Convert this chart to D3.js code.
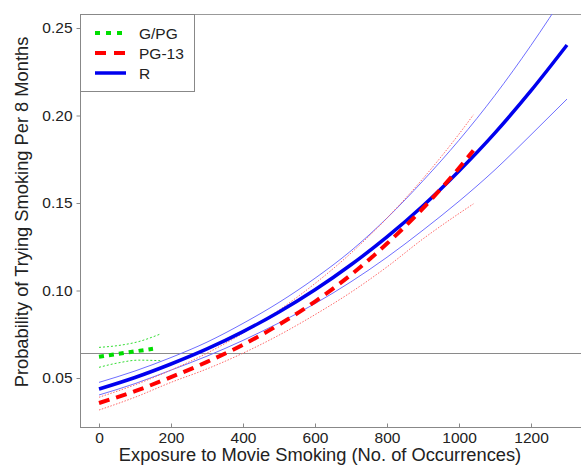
<!DOCTYPE html>
<html>
<head>
<meta charset="utf-8">
<script src="https://cdn.jsdelivr.net/npm/d3@7"></script>
<style>
  body { margin: 0; background: #fff; }
  text { font-family: "Liberation Sans", Arial, Helvetica, sans-serif; fill: #222; }
</style>
</head>
<body>
<div id="chart"></div>
<script>
// exposure values (no. of occurrences) and fitted probabilities
var xR = [0, 100, 200, 300, 400, 500, 600, 700, 800, 900, 1000, 1100, 1200, 1300];
var rMain  = [0.0437, 0.0503, 0.0580, 0.0666, 0.0765, 0.0877, 0.1004, 0.1147, 0.1306, 0.1484, 0.1683, 0.1901, 0.2142, 0.2403];
var rUpper = [0.0475, 0.0540, 0.0617, 0.0705, 0.0812, 0.0932, 0.1070, 0.1227, 0.1414, 0.1627, 0.1859, 0.2116, 0.2401, 0.2710];
var rLower = [0.0403, 0.0468, 0.0545, 0.0625, 0.0715, 0.0815, 0.0925, 0.1050, 0.1190, 0.1345, 0.1510, 0.1690, 0.1890, 0.2094];

var xPG13 = [0, 100, 200, 300, 400, 500, 600, 700, 800, 900, 1000, 1040];
var pg13Main  = [0.0357, 0.0425, 0.0505, 0.0592, 0.0690, 0.0805, 0.0937, 0.1090, 0.1268, 0.1470, 0.1700, 0.1800];
var pg13Upper = [0.0390, 0.0461, 0.0545, 0.0642, 0.0756, 0.0888, 0.1040, 0.1214, 0.1414, 0.1640, 0.1894, 0.2004];
var pg13Lower = [0.0317, 0.0390, 0.0475, 0.0552, 0.0642, 0.0745, 0.0862, 0.0990, 0.1135, 0.1295, 0.1440, 0.1495];

var xGPG = [0, 50, 100, 150];
var gpgMain = [0.0622, 0.0637, 0.0652, 0.0667];
var xGPGci = [0, 55, 110, 170];
var gpgUpper = [0.0675, 0.0686, 0.0708, 0.0751];
var gpgLower = [0.0561, 0.0587, 0.0602, 0.0599];

var refLine = 0.0643;
var xTicks = [0, 200, 400, 600, 800, 1000, 1200];
var yTicks = [0.05, 0.10, 0.15, 0.20, 0.25];
var legendLabels = ["G/PG", "PG-13", "R"];

var W = 581, H = 466;
var plotLeft = 80, plotRight = 581, plotTop = 14, plotBottom = 427;

var svg = d3.select("#chart").append("svg")
  .attr("width", W).attr("height", H);

var x = d3.scaleLinear().domain([0, 1200]).range([99, 531]);
var y = d3.scaleLinear().domain([0.05, 0.25]).range([378, 28]);

svg.append("clipPath").attr("id", "plot")
  .append("rect").attr("x", plotLeft).attr("y", plotTop)
  .attr("width", plotRight - plotLeft).attr("height", plotBottom - plotTop);

// frame (top edge) and reference line
svg.append("line").attr("x1", plotLeft).attr("x2", plotRight + 5)
  .attr("y1", plotTop + 0.5).attr("y2", plotTop + 0.5)
  .attr("stroke", "#999").attr("stroke-width", 1);
svg.append("line").attr("x1", plotLeft).attr("x2", plotRight + 5)
  .attr("y1", Math.round(y(refLine)) + 0.5).attr("y2", Math.round(y(refLine)) + 0.5)
  .attr("stroke", "#8a8a8a").attr("stroke-width", 1);

// axes
var yAxis = d3.axisLeft(y).tickValues(yTicks).tickSize(4).tickPadding(4)
  .tickFormat(d3.format(".2f"));
var gy = svg.append("g").attr("transform", "translate(" + (plotLeft + 0.5) + ",0)").call(yAxis);
gy.select(".domain").attr("d", "M0," + plotTop + "V" + plotBottom);

var xAxis = d3.axisBottom(x).tickValues(xTicks).tickSize(-4).tickPadding(4)
  .tickFormat(d3.format("d"));
var gx = svg.append("g").attr("transform", "translate(0," + (plotBottom + 0.5) + ")").call(xAxis);
gx.select(".domain").attr("d", "M" + plotLeft + ",0H" + (plotRight + 5));

svg.selectAll(".domain").attr("stroke", "#888");
svg.selectAll(".tick line").attr("stroke", "#888");
svg.selectAll(".tick text").attr("font-size", 15.5).attr("fill", "#222")
  .attr("font-family", "'Liberation Sans', Arial, sans-serif");

// axis titles
svg.append("text").attr("x", 320).attr("y", 461).attr("text-anchor", "middle")
  .attr("font-size", 18.3).text("Exposure to Movie Smoking (No. of Occurrences)");
svg.append("text").attr("transform", "translate(28,212) rotate(-90)")
  .attr("text-anchor", "middle").attr("font-size", 18.3)
  .text("Probability of Trying Smoking Per 8 Months");

// curves
var g = svg.append("g").attr("clip-path", "url(#plot)");
function draw(xs, ys, stroke, width, dash) {
  var line = d3.line()
    .x(function(d) { return x(d[0]); })
    .y(function(d) { return y(d[1]); })
    .curve(d3.curveMonotoneX);
  g.append("path").datum(d3.zip(xs, ys))
    .attr("d", line).attr("fill", "none")
    .attr("stroke", stroke).attr("stroke-width", width)
    .attr("stroke-dasharray", dash || null);
}

draw(xR, rUpper, "#6f6fff", 1);
draw(xR, rLower, "#6f6fff", 1);
draw(xPG13, pg13Upper, "#ff6a6a", 1, "1.5,1.5");
draw(xPG13, pg13Lower, "#ff6a6a", 1, "1.5,1.5");
draw(xGPGci, gpgUpper, "#33dd33", 1, "2,2");
draw(xGPGci, gpgLower, "#33dd33", 1, "2,2");
draw(xR, rMain, "#0000ee", 3.5);
draw(xPG13, pg13Main, "#ff0000", 4, "11,7");
draw(xGPG, gpgMain, "#00dd00", 4, "5,5");

// legend
var leg = svg.append("g");
leg.append("rect").attr("x", plotLeft + 0.5).attr("y", plotTop + 0.5)
  .attr("width", 114).attr("height", 77)
  .attr("fill", "#fff").attr("stroke", "#888");
var legStyles = [
  { stroke: "#00dd00", width: 4, dash: "5,6" },
  { stroke: "#ff0000", width: 4, dash: "11,8" },
  { stroke: "#0000ee", width: 3.5, dash: null }
];
legendLabels.forEach(function(lab, i) {
  var ly = 33 + i * 20;
  leg.append("line").attr("x1", 95).attr("x2", 126).attr("y1", ly).attr("y2", ly)
    .attr("stroke", legStyles[i].stroke).attr("stroke-width", legStyles[i].width)
    .attr("stroke-dasharray", legStyles[i].dash);
  leg.append("text").attr("x", 139).attr("y", ly + 5.5)
    .attr("font-size", 15.5).text(lab);
});
</script>
</body>
</html>
